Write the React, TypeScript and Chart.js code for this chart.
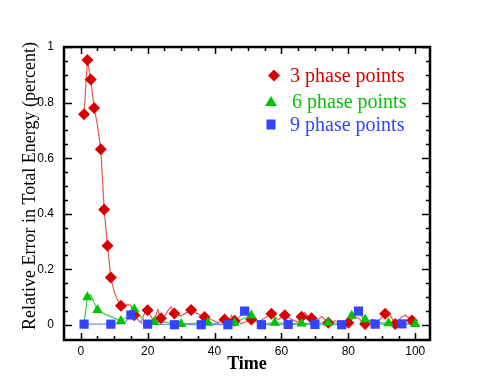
import React, { useEffect, useRef } from "react";
import { Chart, registerables } from "chart.js";

Chart.register(...registerables);

// ---- data ----
const redMarkX = [1, 2, 3, 4, 6, 7, 8, 9, 12, 16, 20, 24, 28, 33, 37, 43, 46, 51, 57, 61, 66, 69, 74, 80, 85, 91, 94, 99];
const redMarkY = [0.758, 0.953, 0.883, 0.781, 0.632, 0.415, 0.285, 0.171, 0.069, 0.035, 0.053, 0.024, 0.041, 0.054, 0.029, 0.02, 0.015, 0.02, 0.04, 0.035, 0.03, 0.024, 0.008, 0.008, 0.004, 0.04, 0.004, 0.016];
const redLineX = [1, 2, 3, 4, 5, 6, 7, 8, 9, 10, 11, 12, 13, 14, 15, 16, 17, 18, 19, 20, 21, 22, 23, 24, 25, 26, 27, 28, 30, 31, 33, 35, 37, 39, 41, 43, 44, 45, 46, 48, 49, 51, 53, 55, 57, 59, 61, 63, 65, 66, 67, 68, 69, 71, 72, 74, 76, 78, 80, 82, 83, 85, 87, 89, 91, 92, 94, 96, 97, 99];
const redLineY = [0.758, 0.953, 0.883, 0.781, 0.72, 0.632, 0.415, 0.285, 0.171, 0.12, 0.09, 0.069, 0.06, 0.075, 0.07, 0.035, 0.02, 0.008, 0.04, 0.053, 0.03, 0.015, 0.055, 0.024, 0.03, 0.05, 0.065, 0.041, 0.032, 0.04, 0.054, 0.04, 0.029, 0.02, 0.008, 0.02, 0.005, 0.035, 0.015, 0.005, 0.01, 0.02, 0.01, 0.025, 0.04, 0.02, 0.035, 0.02, 0.01, 0.03, 0.045, 0.03, 0.024, 0.02, 0.03, 0.008, 0.015, 0.005, 0.008, 0.03, 0.025, 0.004, 0.02, 0.015, 0.04, 0.045, 0.004, 0.03, 0.035, 0.016];

const greenMarkX = [2, 5, 12, 16, 22, 30, 38, 46, 51, 58, 66, 74, 81, 85, 92, 100];
const greenMarkY = [0.1, 0.054, 0.014, 0.057, 0.011, 0.004, 0.008, 0.008, 0.034, 0.008, 0.005, 0.008, 0.033, 0.02, 0.006, 0.004];
const greenLineX = [1, 2, 3, 4, 5, 7, 9, 11, 12, 14, 16, 17, 19, 20, 22, 25, 28, 30, 34, 38, 42, 46, 48, 51, 53, 55, 58, 62, 66, 70, 74, 78, 81, 83, 85, 88, 92, 96, 100];
const greenLineY = [0.005, 0.1, 0.108, 0.08, 0.054, 0.04, 0.03, 0.02, 0.014, 0.03, 0.057, 0.045, 0.015, 0.01, 0.011, 0.01, 0.006, 0.004, 0.006, 0.008, 0.003, 0.008, 0.02, 0.034, 0.01, 0.005, 0.008, 0.006, 0.005, 0.007, 0.008, 0.004, 0.033, 0.04, 0.02, 0.01, 0.006, 0.005, 0.004];

const blueMarkX = [1, 9, 15, 20, 28, 36, 44, 49, 54, 62, 70, 78, 83, 88, 96];
const blueMarkY = [0.003, 0.003, 0.036, 0.003, 0.001, 0.001, 0.001, 0.05, 0.001, 0.002, 0.002, 0.001, 0.05, 0.003, 0.004];
const blueLineX = [1, 9, 13, 15, 16, 18, 20, 28, 36, 44, 46, 49, 51, 54, 62, 70, 78, 80, 83, 85, 88, 96, 100];
const blueLineY = [0.003, 0.003, 0.005, 0.036, 0.03, 0.008, 0.003, 0.001, 0.001, 0.001, 0.01, 0.05, 0.03, 0.001, 0.002, 0.002, 0.001, 0.01, 0.05, 0.02, 0.003, 0.004, 0.004];

const xTicks = [0, 20, 40, 60, 80, 100];
const yTicks = [0, 0.2, 0.4, 0.6, 0.8, 1];
const yTickLabels = ["0", "0.2", "0.4", "0.6", "0.8", "1"];
const legendLabels = ["3 phase points", "6 phase points", "9 phase points"];

const RED = "#d80000";
const GREEN = "#00c400";
const BLUE = "#3344ff";

const pts = (xs: number[], ys: number[]) => xs.map((x, i) => ({ x, y: ys[i] }));

const framePlugin = {
  id: "frameAndTicks",
  afterDraw(chart: any) {
    const ctx = chart.ctx;
    const { left, right, top, bottom } = chart.chartArea;
    const xs = chart.scales.x;
    const ys = chart.scales.y;
    ctx.save();
    ctx.strokeStyle = "#000";
    ctx.lineWidth = 1.5;
    // minor/major ticks inward on all four sides
    for (let v = 0; v <= 100; v += 5) {
      const px = Math.round(xs.getPixelForValue(v)) + 0.5;
      const len = v % 20 === 0 ? 7 : 4;
      ctx.beginPath();
      ctx.moveTo(px, bottom);
      ctx.lineTo(px, bottom - len);
      ctx.moveTo(px, top);
      ctx.lineTo(px, top + len);
      ctx.stroke();
    }
    for (let i = 0; i <= 20; i++) {
      const v = i * 0.05;
      const py = Math.round(ys.getPixelForValue(v)) + 0.5;
      const len = i % 4 === 0 ? 8 : 4;
      ctx.beginPath();
      ctx.moveTo(left, py);
      ctx.lineTo(left + len, py);
      ctx.moveTo(right, py);
      ctx.lineTo(right - len, py);
      ctx.stroke();
    }
    ctx.lineWidth = 2.5;
    ctx.strokeRect(left, top, right - left, bottom - top);

    // y title
    ctx.save();
    ctx.translate(30, 186);
    ctx.rotate(-Math.PI / 2);
    ctx.font = '18px "Liberation Serif", "Times New Roman", serif';
    ctx.fillStyle = "#000";
    ctx.textAlign = "center";
    ctx.textBaseline = "middle";
    ctx.fillText("Relative Error in Total Energy (percent)", 0, 0);
    ctx.restore();

    // legend
    const colors = [RED, GREEN, BLUE];
    const ly = [75.5, 101.5, 124.5];
    const mx = [274, 271, 271];
    const tx = [290, 292, 290];
    ctx.font = '20px "Liberation Serif", "Times New Roman", serif';
    ctx.textAlign = "left";
    ctx.textBaseline = "middle";
    for (let i = 0; i < 3; i++) {
      ctx.fillStyle = colors[i];
      ctx.beginPath();
      if (i === 0) {
        ctx.moveTo(mx[i], ly[i] - 6);
        ctx.lineTo(mx[i] + 6, ly[i]);
        ctx.lineTo(mx[i], ly[i] + 6);
        ctx.lineTo(mx[i] - 6, ly[i]);
      } else if (i === 1) {
        ctx.moveTo(mx[i], ly[i] - 5.5);
        ctx.lineTo(mx[i] + 6, ly[i] + 4.5);
        ctx.lineTo(mx[i] - 6, ly[i] + 4.5);
      } else {
        ctx.rect(mx[i] - 4.5, ly[i] - 5, 9, 10);
      }
      ctx.closePath();
      ctx.fill();
      ctx.fillText(legendLabels[i], tx[i], ly[i] + 1);
    }
    ctx.restore();
  },
};

export default function App() {
  const ref = useRef<HTMLCanvasElement | null>(null);
  useEffect(() => {
    document.body.style.margin = "0";
    const canvas = ref.current!;
    const chart = new Chart(canvas, {
      type: "scatter",
      data: {
        datasets: [
          { label: "9 marks", data: pts(blueMarkX, blueMarkY), showLine: false, pointStyle: "rect", pointRadius: 6.5, backgroundColor: BLUE, borderColor: BLUE, borderWidth: 0 },
          { label: "6 marks", data: pts(greenMarkX, greenMarkY), showLine: false, pointStyle: "triangle", pointRadius: 6, backgroundColor: GREEN, borderColor: GREEN, borderWidth: 0 },
          { label: "3 marks", data: pts(redMarkX, redMarkY), showLine: false, pointStyle: "rectRot", pointRadius: 6, backgroundColor: RED, borderColor: RED, borderWidth: 0 },
          { label: "9 line", data: pts(blueLineX, blueLineY), showLine: true, pointRadius: 0, borderColor: "#8090ff", borderWidth: 1.2, backgroundColor: "transparent" },
          { label: "6 line", data: pts(greenLineX, greenLineY), showLine: true, pointRadius: 0, borderColor: "#40d040", borderWidth: 1.2, backgroundColor: "transparent" },
          { label: "3 line", data: pts(redLineX, redLineY), showLine: true, pointRadius: 0, borderColor: "#e85858", borderWidth: 1.2, backgroundColor: "transparent" },
        ],
      },
      options: {
        animation: false,
        responsive: false,
        devicePixelRatio: 1,
        layout: { padding: { top: 47, right: 61, left: 0, bottom: 0 } },
        plugins: { legend: { display: false }, tooltip: { enabled: false } },
        scales: {
          x: {
            type: "linear",
            min: -5,
            max: 104.4,
            grid: { display: false, drawTicks: false },
            border: { display: false },
            afterBuildTicks: (s: any) => { s.ticks = xTicks.map((v) => ({ value: v })); },
            afterFit: (s: any) => { s.height = 42; },
            ticks: { padding: 4, color: "#000", font: { family: '"Liberation Sans", Arial, sans-serif', size: 12 }, callback: (v: any) => String(v) },
            title: { display: true, text: "Time", color: "#000", font: { family: '"Liberation Serif", "Times New Roman", serif', size: 18, weight: "bold" }, padding: { top: 0, bottom: 7 } },
          },
          y: {
            type: "linear",
            min: -0.054,
            max: 1,
            grid: { display: false, drawTicks: false },
            border: { display: false },
            afterBuildTicks: (s: any) => { s.ticks = yTicks.map((v) => ({ value: v })); },
            afterFit: (s: any) => { s.width = 64; },
            ticks: { padding: 10, color: "#000", font: { family: '"Liberation Sans", Arial, sans-serif', size: 12 }, callback: (v: any) => { const i = yTicks.findIndex((t) => Math.abs(t - v) < 1e-9); return i >= 0 ? yTickLabels[i] : ""; } },
          },
        },
      },
      plugins: [framePlugin],
    } as any);
    return () => chart.destroy();
  }, []);
  return <canvas ref={ref} width={491} height={382} style={{ display: "block" }} />;
}
